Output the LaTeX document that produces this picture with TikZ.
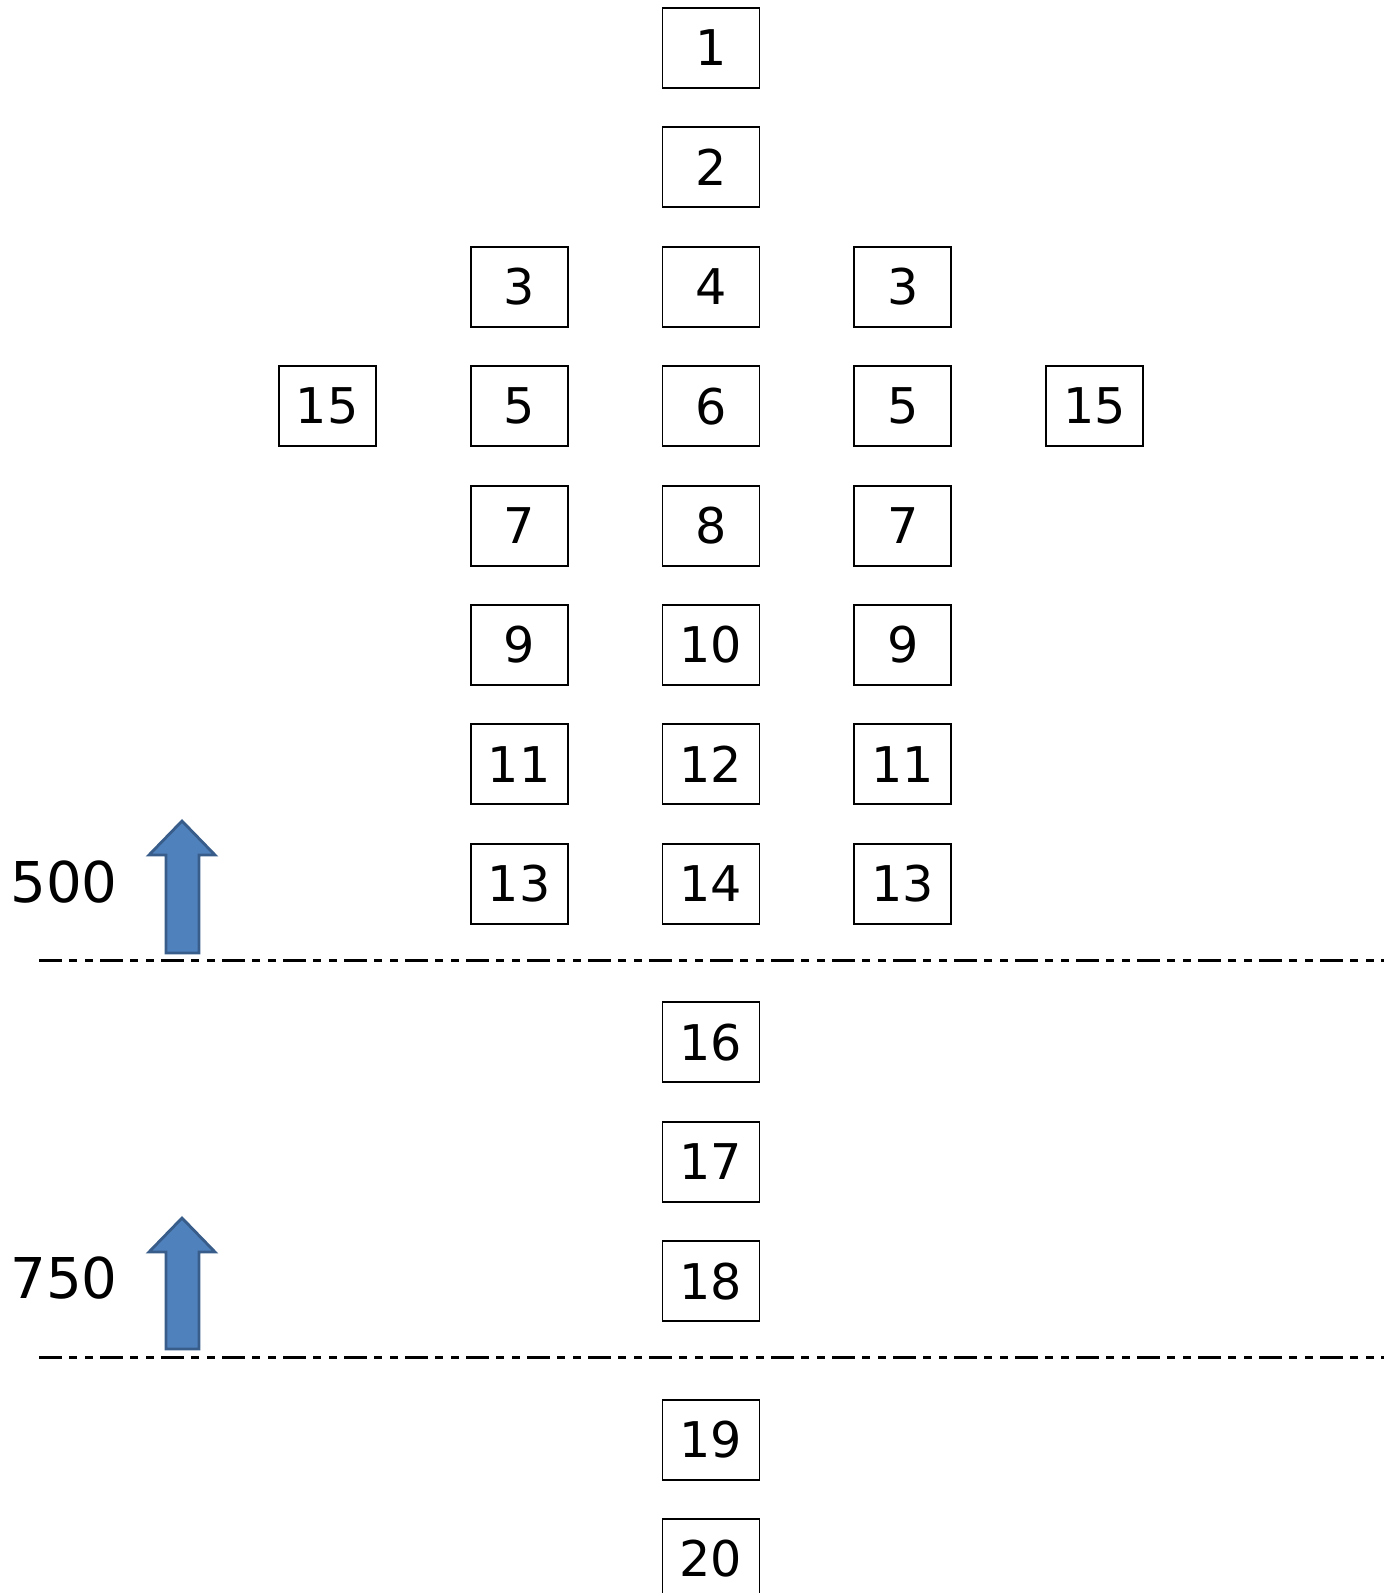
\documentclass[tikz,border=0pt]{standalone}
\usepackage{fontspec}
\setmainfont{DejaVu Sans}
\usetikzlibrary{positioning}
\tikzset{>=latex}
\tikzset{
  cell/.style={draw, line width=1.1pt, minimum width=1.94cm, minimum height=1.6cm,
    inner sep=0pt, font=\fontsize{28}{30}\selectfont},
  level/.style={font=\fontsize{32}{34}\selectfont},
  bound/.style={line width=1.7pt,
    dash pattern=on 0.46cm off 0.14cm on 0.16cm off 0.16cm on 0.16cm off 0.14cm},
  uparrow/.style={fill=arrowblue, draw=arrowedge, line width=1.6pt, line join=miter}
}
\definecolor{arrowblue}{HTML}{4F81BD}
\definecolor{arrowedge}{HTML}{385D8A}

\begin{document}
\begin{tikzpicture}

  \useasboundingbox (0,0) rectangle (27.98,-31.86);

  % Nodes
  \node[cell]                        (n1)  at (14.22,-0.956) {1};
  \node[cell, below=0.75cm of n1]    (n2)  {2};
  \node[cell, below=0.75cm of n2]    (n4)  {4};
  \node[cell, left=1.86cm of n4]     (n3l) {3};
  \node[cell, right=1.86cm of n4]    (n3r) {3};
  \node[cell, below=0.75cm of n4]    (n6)  {6};
  \node[cell, left=1.86cm of n6]     (n5l) {5};
  \node[cell, right=1.86cm of n6]    (n5r) {5};
  \node[cell, left=1.86cm of n5l]    (n15l) {15};
  \node[cell, right=1.86cm of n5r]   (n15r) {15};
  \node[cell, below=0.75cm of n6]    (n8)  {8};
  \node[cell, left=1.86cm of n8]     (n7l) {7};
  \node[cell, right=1.86cm of n8]    (n7r) {7};
  \node[cell, below=0.75cm of n8]    (n10) {10};
  \node[cell, left=1.86cm of n10]    (n9l) {9};
  \node[cell, right=1.86cm of n10]   (n9r) {9};
  \node[cell, below=0.75cm of n10]   (n12) {12};
  \node[cell, left=1.86cm of n12]    (n11l) {11};
  \node[cell, right=1.86cm of n12]   (n11r) {11};
  \node[cell, below=0.75cm of n12]   (n14) {14};
  \node[cell, left=1.86cm of n14]    (n13l) {13};
  \node[cell, right=1.86cm of n14]   (n13r) {13};

  \node[cell, below=1.53cm of n14]   (n16) {16};
  \node[cell, below=0.75cm of n16]   (n17) {17};
  \node[cell, below=0.75cm of n17]   (n18) {18};
  \node[cell, below=1.53cm of n18]   (n19) {19};
  \node[cell, below=0.75cm of n19]   (n20) {20};

  % Levels
  \node[level] (l500) at (1.28,-17.64) {500};
  \node[level] (l750) at (1.28,-25.56) {750};

  \draw[uparrow] (3.64,-16.42) -- (4.30,-17.10) -- (3.98,-17.10) -- (3.98,-19.06)
    -- (3.32,-19.06) -- (3.32,-17.10) -- (2.98,-17.10) -- cycle;
  \draw[uparrow] (3.64,-24.36) -- (4.30,-25.04) -- (3.98,-25.04) -- (3.98,-26.98)
    -- (3.32,-26.98) -- (3.32,-25.04) -- (2.98,-25.04) -- cycle;

  % Boundaries
  \coordinate (b1w) at (0.78,-19.2);
  \coordinate (b1e) at (27.68,-19.2);
  \coordinate (b2w) at (0.78,-27.14);
  \coordinate (b2e) at (27.68,-27.14);
  \draw[bound] (b1w) -- (b1e);
  \draw[bound] (b2w) -- (b2e);

\end{tikzpicture}
\end{document}
